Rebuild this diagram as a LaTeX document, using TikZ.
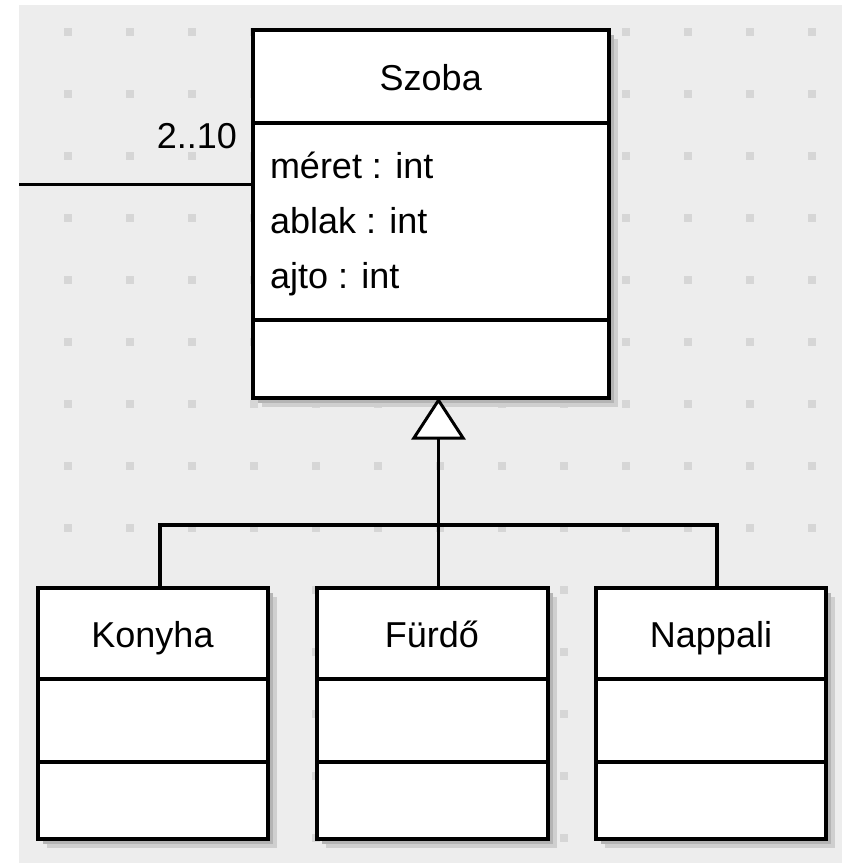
\documentclass[tikz,border=0pt]{standalone}
\usepackage{fontspec}
\setmainfont{Liberation Sans}
\usetikzlibrary{arrows.meta,shadows,calc}
\definecolor{bggray}{HTML}{EDEDED}
\definecolor{dotgray}{HTML}{D6D6D6}
\definecolor{shdark}{HTML}{B4B4B4}
\definecolor{shlight}{HTML}{CFCFCF}
\begin{document}
\begin{tikzpicture}[x=1pt,y=-1pt,
  umlbox/.style={draw=black, line width=4pt, fill=white, inner sep=0pt, outer sep=0pt,
    anchor=north west,
    general shadow={fill=shlight, shadow xshift=9pt, shadow yshift=-9pt},
    general shadow={fill=shdark, shadow xshift=5pt, shadow yshift=-5pt}},
  sepline/.style={line width=4pt},
  lbl/.style={font=\fontsize{36}{40}\selectfont, inner sep=0pt, outer sep=0pt},
  conn/.style={line width=3.5pt},
  gen/.style={conn, -{Triangle[fill=white, length=42pt, width=54pt, line width=3pt]}}]
% canvas
\useasboundingbox (0,0) rectangle (842,863);
\fill[white] (0,0) rectangle (842,863);
\fill[bggray] (19,5) rectangle (842,863);
\foreach \i in {0,...,12}{
  \foreach \j in {0,...,13}{
    \fill[dotgray] ({64+62*\i},{28+62*\j}) rectangle +(8,8);
  }
}
% Szoba class
\node[umlbox, minimum width=356.5pt, minimum height=367.5pt] (szoba) at (252.5,30) {};
\draw[sepline] ($(szoba.north west)+(0,93)$) -- ($(szoba.north east)+(0,93)$);
\draw[sepline] ($(szoba.north west)+(0,290)$) -- ($(szoba.north east)+(0,290)$);
\node[lbl, anchor=base] (szobaname) at (430.75,90) {Szoba};
\node[lbl, anchor=base west] (a1) at (270,178) {méret : int};
\node[lbl, anchor=base west] (a2) at (270,233) {ablak : int};
\node[lbl, anchor=base west] (a3) at (270,288) {ajto : int};
% subclasses
\node[umlbox, minimum width=230pt, minimum height=251pt] (kon) at (37.5,587.5) {};
\node[umlbox, minimum width=231pt, minimum height=251pt] (fur) at (316.5,587.5) {};
\node[umlbox, minimum width=230pt, minimum height=251pt] (nap) at (596,587.5) {};
\foreach \b in {kon,fur,nap}{
  \draw[sepline] ($(\b.north west)+(0,91.5)$) -- ($(\b.north east)+(0,91.5)$);
  \draw[sepline] ($(\b.north west)+(0,174.5)$) -- ($(\b.north east)+(0,174.5)$);
}
\node[lbl, anchor=base] (konname) at (152.5,647) {Konyha};
\node[lbl, anchor=base] (furname) at (432,647) {Fürdő};
\node[lbl, anchor=base] (napname) at (711,647) {Nappali};
% connectors
\coordinate (bus) at (438.5,525);
\coordinate (lend) at (19,184.5);
\draw[conn] ([xshift=7.5pt]kon.north) |- (bus) -| ([xshift=6pt]nap.north);
\draw[conn] ([xshift=6.5pt]fur.north) -- (bus);
\draw[gen] (bus) -- (bus |- szoba.south);
\draw[conn] (lend) -- (szoba.west |- lend);
\node[lbl, anchor=base east] (mult) at (237,148) {2..10};
\end{tikzpicture}
\end{document}
